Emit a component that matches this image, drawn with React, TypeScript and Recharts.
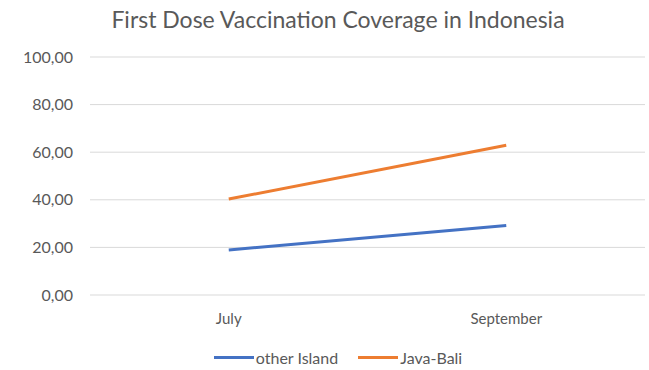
import { LineChart, Line, XAxis, YAxis, CartesianGrid } from 'recharts'

const months = ['July', 'September']
const otherIsland = [18.9, 29.2]
const javaBali = [40.3, 62.9]
const yTicks = [0, 20, 40, 60, 80, 100]

const data = months.map((m, i) => ({ month: m, other: otherIsland[i], java: javaBali[i] }))

const FONT = 'Lato, "Open Sans", sans-serif'
const TEXT = '#595959'

const legendItems = [
  { label: 'other Island', color: '#4472C4' },
  { label: 'Java-Bali', color: '#ED7D31' },
]

function ChartLegend() {
  return (
    <div style={{ display: 'flex', justifyContent: 'center', alignItems: 'center', gap: 20, fontFamily: FONT, fontSize: 16, color: TEXT }}>
      {legendItems.map((item) => (
        <div key={item.label} style={{ display: 'flex', alignItems: 'center' }}>
          <span style={{ display: 'inline-block', width: 40, height: 3, background: item.color, marginRight: 2 }} />
          <span>{item.label}</span>
        </div>
      ))}
    </div>
  )
}

export default function App() {
  return (
    <div style={{ position: 'absolute', left: 0, top: 0, width: 649, height: 370, background: '#fff' }}>
      <div style={{ position: 'absolute', top: 5, left: 0, width: 676, textAlign: 'center', fontFamily: FONT, fontSize: 23, color: TEXT }}>
        First Dose Vaccination Coverage in Indonesia
      </div>
      <LineChart width={649} height={370} data={data} margin={{ top: 57, right: 4, bottom: 45, left: 0 }}>
        <CartesianGrid vertical={false} stroke="#d9d9d9" />
        <XAxis
          dataKey="month"
          scale="band"
          axisLine={false}
          tickLine={false}
          tickSize={0}
          tickMargin={18}
          height={30}
          tick={{ fill: TEXT, fontSize: 15, fontFamily: FONT }}
        />
        <YAxis
          domain={[0, 100]}
          ticks={yTicks}
          width={90}
          axisLine={false}
          tickLine={false}
          tickSize={0}
          tickMargin={17}
          tickFormatter={(v: number) => v.toFixed(2).replace('.', ',')}
          tick={{ fill: TEXT, fontSize: 16, fontFamily: FONT }}
        />
        <Line type="linear" dataKey="other" stroke="#4472C4" strokeWidth={3} dot={false} isAnimationActive={false} />
        <Line type="linear" dataKey="java" stroke="#ED7D31" strokeWidth={3} dot={false} isAnimationActive={false} />
      </LineChart>
      <div style={{ position: 'absolute', left: 0, top: 348, width: 676 }}>
        <ChartLegend />
      </div>
    </div>
  )
}
